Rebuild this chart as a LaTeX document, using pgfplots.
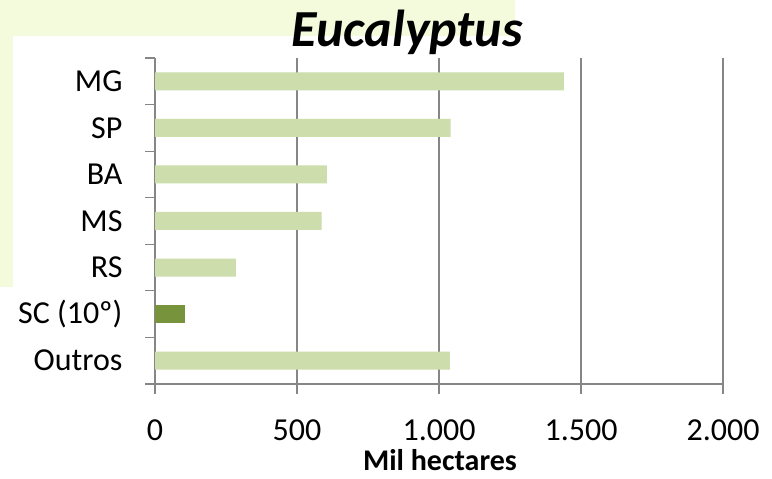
\documentclass[border=0pt]{standalone}
\usepackage{pgfplots}
\pgfplotsset{compat=1.18}
\usepackage{fontspec}
\setmainfont{Carlito}
\definecolor{barlight}{HTML}{CDDDAC}
\definecolor{bardark}{HTML}{77933C}
\definecolor{gridgray}{HTML}{868686}
\definecolor{bgyellow}{HTML}{F4FADC}
\begin{document}
\begin{tikzpicture}[x=1bp,y=1bp]
\fill[white] (0,0) rectangle (772,479);
\fill[bgyellow] (0,443) rectangle (515,479);
\fill[bgyellow] (0,192) rectangle (13,443);
\useasboundingbox (0,0) rectangle (772,479);
\begin{axis}[
  at={(155bp,95bp)}, anchor=south west,
  scale only axis, width=568bp, height=326bp,
  xmin=0, xmax=2000, ymin=-0.5, ymax=6.5,
  xbar, bar width=18bp, bar shift=0pt,
  axis x line*=bottom, axis y line*=left,
  axis line style={gridgray, line width=1.2bp},
  xtick={0,500,1000,1500,2000},
  xticklabels={0,500,{1.000},{1.500},{2.000}},
  xmajorgrids, grid style={gridgray, line width=1.2bp},
  ytick={-0.5,0.5,1.5,2.5,3.5,4.5,5.5,6.5},
  yticklabels={Outros,SC (10º),RS,MS,BA,SP,MG,{}},
  y tick label as interval,
  tick style={gridgray, line width=1.2bp},
  tick align=outside, major tick length=10bp,
  ticklabel style={font=\fontsize{32bp}{38bp}\selectfont, text=black},
  xticklabel style={anchor=base, inner sep=1bp, yshift=-47bp},
  yticklabel style={anchor=east, xshift=-19bp},
  /pgf/number format/assume math mode=true,
  clip=false,
]
\addplot[draw=none, fill=barlight] coordinates {
  (1038,0) (285,2) (587,3) (605,4) (1041,5) (1440,6)
};
\addplot[draw=none, fill=bardark] coordinates {(107,1)};
\end{axis}
\node[anchor=base, inner sep=1bp, font=\fontsize{52bp}{62bp}\selectfont\bfseries\itshape] at (407,432) {Eucalyptus};
\node[anchor=base, inner sep=1bp, font=\fontsize{30bp}{36bp}\selectfont\bfseries] at (440,8) {Mil hectares};
\end{tikzpicture}
\end{document}
